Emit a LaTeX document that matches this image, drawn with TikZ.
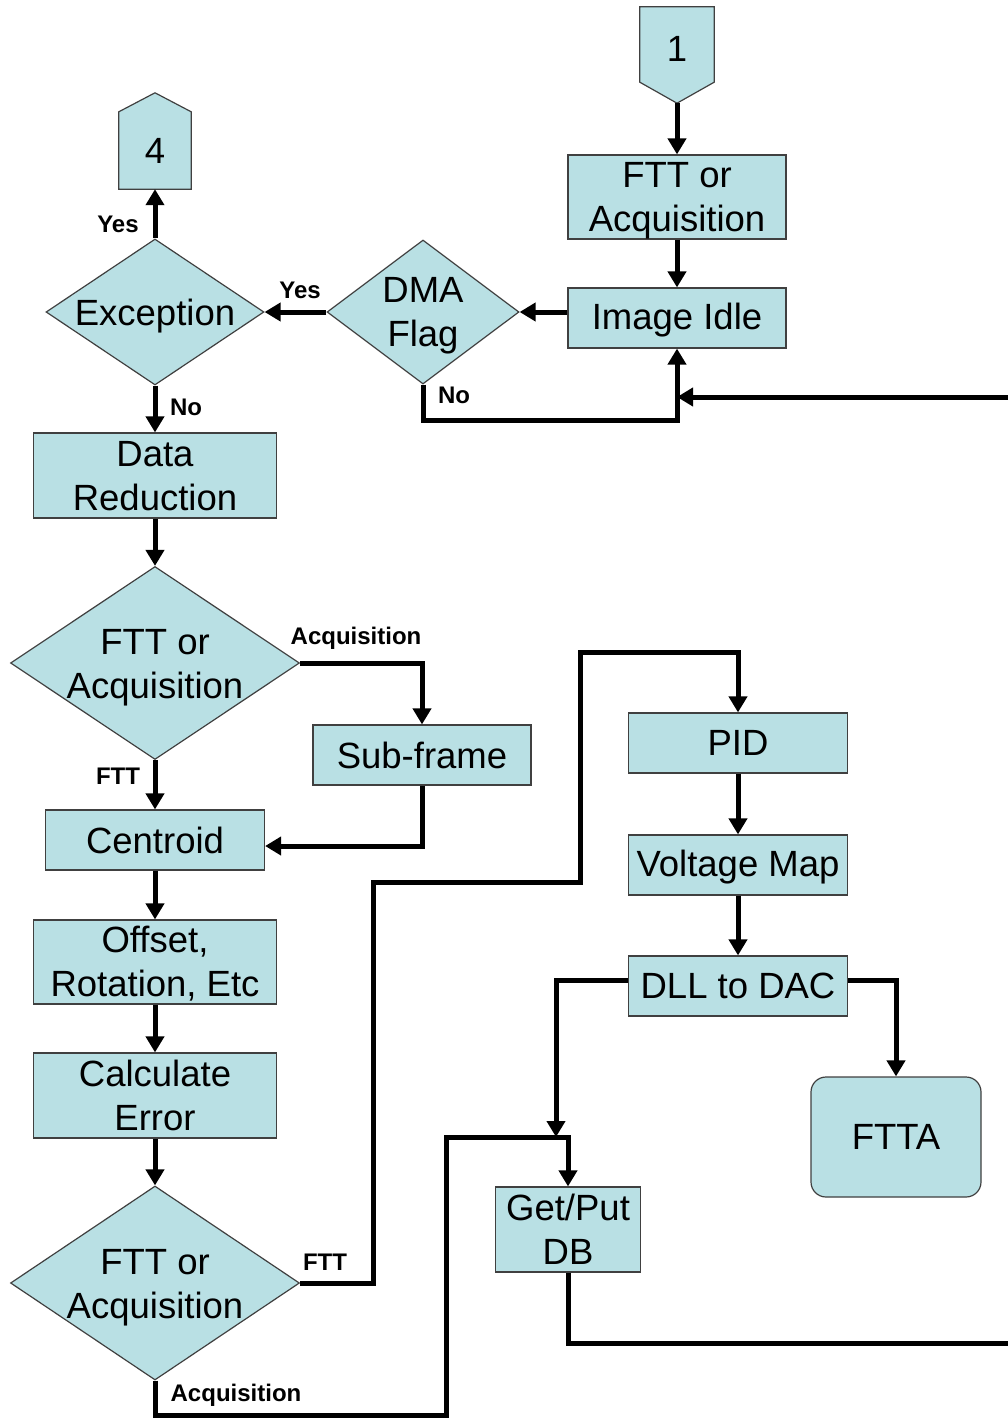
\documentclass[tikz,border=0pt]{standalone}
\usepackage{fontspec}
\setmainfont{Liberation Sans}
\usetikzlibrary{arrows.meta,shapes.geometric,calc,backgrounds}
\definecolor{boxfill}{RGB}{185,224,228}
\definecolor{boxline}{RGB}{64,64,64}
\begin{document}
\begin{tikzpicture}[x=1pt,y=-1pt,
  every node/.style={font=\fontsize{36.5}{44}\selectfont, text=black},
  procbox/.style={rectangle, draw=boxline, line width=1.2pt, fill=boxfill,
    inner sep=0pt},
  decision/.style={diamond, draw=boxline, line width=1.2pt, fill=boxfill,
    inner sep=0pt},
  txt/.style={align=center, inner sep=0pt},
  offtext/.style={rectangle, inner sep=0pt},
  shapeline/.style={draw=boxline, line width=1.2pt, fill=boxfill, line join=miter},
  conn/.style={line width=5pt, -{Triangle[width=18pt,length=16pt]}},
  wire/.style={line width=5pt},
  lbl/.style={font=\fontsize{24}{28}\selectfont\bfseries, inner sep=0pt},
]
\useasboundingbox (0,0) rectangle (1008,1418);

% off-page connectors
\node[offtext, minimum width=74pt, minimum height=75pt,
  label={[txt, yshift=-4pt]center:1}] (c1) at (677,44.5) {};
\coordinate (c1tip) at ($(c1.south)+(0,21)$);
\node[offtext, minimum width=72pt, minimum height=77pt,
  label={[txt]center:4}] (c4) at (155,150.5) {};
\coordinate (c4tip) at ($(c4.north)+(0,-19)$);
\begin{scope}[on background layer]
  \path[shapeline] (c1.north west) -- (c1.north east) -- (c1.south east)
    -- (c1tip) -- (c1.south west) -- cycle;
  \path[shapeline] (c4.south west) -- (c4.south east) -- (c4.north east)
    -- (c4tip) -- (c4.north west) -- cycle;
\end{scope}

% right column, top
\node[procbox, minimum width=218pt, minimum height=84pt,
  label={[txt, yshift=-4pt]center:FTT or\\Acquisition}] (ftt1) at (677,197) {};
\node[procbox, minimum width=218pt, minimum height=60pt,
  label={[txt, yshift=-2pt]center:Image Idle}] (idle) at (677,318) {};
\node[decision, minimum width=192pt, minimum height=144pt,
  label={[txt, yshift=-4pt]center:DMA\\Flag}] (dma) at (423,312) {};
\node[decision, minimum width=218pt, minimum height=146pt,
  label={[txt, yshift=-4.5pt]center:Exception}] (exc) at (155,312) {};

% left column
\node[procbox, minimum width=243pt, minimum height=85pt,
  label={[txt, yshift=-1pt]center:Data\\Reduction}] (dr) at (155,475.5) {};
\node[decision, minimum width=289pt, minimum height=193pt,
  label={[txt, yshift=-5pt]center:FTT or\\Acquisition}] (fa1) at (155,663) {};
\node[procbox, minimum width=218pt, minimum height=60pt,
  label={[txt]center:Sub-frame}] (sub) at (422,755) {};
\node[procbox, minimum width=219pt, minimum height=60pt,
  label={[txt]center:Centroid}] (cen) at (155,840) {};
\node[procbox, minimum width=243pt, minimum height=84pt,
  label={[txt, yshift=-2pt]center:Offset,\\Rotation, Etc}] (off) at (155,962) {};
\node[procbox, minimum width=243pt, minimum height=85pt,
  label={[txt]center:Calculate\\Error}] (calc) at (155,1095.5) {};
\node[decision, minimum width=289pt, minimum height=194pt,
  label={[txt, yshift=-5pt]center:FTT or\\Acquisition}] (fa2) at (155,1283) {};

% right column, bottom
\node[procbox, minimum width=219pt, minimum height=60pt,
  label={[txt]center:PID}] (pid) at (738,743) {};
\node[procbox, minimum width=219pt, minimum height=60pt,
  label={[txt, yshift=-2pt]center:Voltage Map}] (vm) at (738,865) {};
\node[procbox, minimum width=219pt, minimum height=60pt,
  label={[txt]center:DLL to DAC}] (dll) at (738,986) {};
\node[procbox, rounded corners=15pt, minimum width=170pt, minimum height=120pt,
  label={[txt]center:FTTA}] (ftta) at (896,1137) {};
\node[procbox, minimum width=145pt, minimum height=85pt,
  label={[txt]center:Get/Put\\DB}] (gp) at (568,1229.5) {};

% free ends and junctions
\coordinate (feed) at (1008,397);
\coordinate (out) at (1008,1343);
\coordinate (jn) at (556,1137);

% connectors
\draw[conn] (c1tip) -- (ftt1.north);
\draw[conn] (ftt1.south) -- (idle.north);
\draw[conn] (idle.west |- dma.east) -- (dma.east);
\draw[conn] (dma.west) -- (exc.east);
\draw[conn] (dma.south) |- (idle.south |- 0,420) -- (idle.south);
\draw[conn] (feed) -- (idle.south |- feed);
\draw[conn] (exc.north) -- (c4.south);
\draw[conn] (exc.south) -- (dr.north);
\draw[conn] (dr.south) -- (fa1.north);
\draw[conn] (fa1.east) -| (sub.north);
\draw[conn] (sub.south) |- (cen.east |- 0,846);
\draw[conn] (fa1.south) -- (cen.north);
\draw[conn] (cen.south) -- (off.north);
\draw[conn] (off.south) -- (calc.north);
\draw[conn] (calc.south) -- (fa2.north);
\draw[conn] (fa2.east) -- (373,1283) -- (373,882) -- (580,882) -- (580,652) -| (pid.north);
\draw[conn] (pid.south) -- (vm.north);
\draw[conn] (vm.south) -- (dll.north);
\draw[conn] (dll.west |- 0,980) -| (jn);
\draw[conn] (dll.east |- 0,980) -| (ftta.north);
\draw[conn] (fa2.south) |- (446,1415) -- (446,1137) -| (gp.north);
\draw[wire] (gp.south) |- (out);

% branch labels
\node[lbl] (l-yes-dma) at (300,290) {Yes};
\node[lbl] (l-yes-exc) at (118,224) {Yes};
\node[lbl] (l-no-exc) at (186,407) {No};
\node[lbl] (l-no-dma) at (454,395) {No};
\node[lbl] (l-acq1) at (356,638) {Acquisition};
\node[lbl] (l-ftt1) at (118,776) {FTT};
\node[lbl] (l-ftt2) at (325,1262) {FTT};
\node[lbl] (l-acq2) at (236,1395) {Acquisition};
\end{tikzpicture}
\end{document}
